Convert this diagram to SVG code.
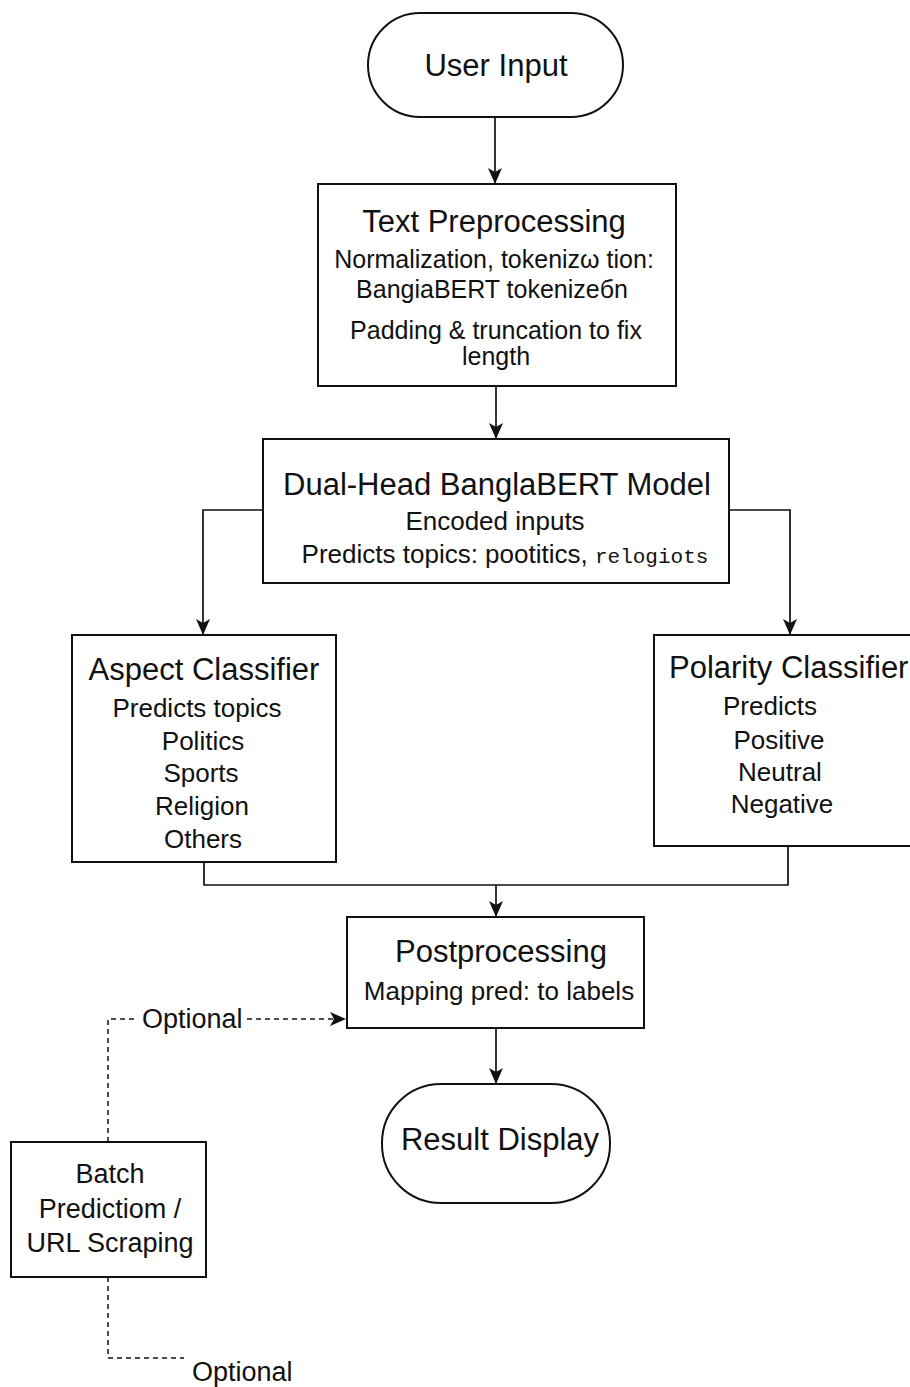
<svg xmlns="http://www.w3.org/2000/svg" width="910" height="1387" viewBox="0 0 910 1387">
<style>
.box{fill:#fff;stroke:#111;stroke-width:2}
.ln{fill:none;stroke:#111;stroke-width:1.7}
.dash{fill:none;stroke:#111;stroke-width:1.5;stroke-dasharray:5 4}
text{font-family:"Liberation Sans",Arial,Helvetica,sans-serif;fill:#111}
.t{font-size:31px}
.b{font-size:26px}
.s{font-size:25px}
.o{font-size:27px}
.c{text-anchor:middle}
</style>
<defs>
<marker id="arr" markerUnits="userSpaceOnUse" markerWidth="16" markerHeight="14" refX="16" refY="7" orient="auto">
<path d="M0,0 L16,7 L0,14 L4,7 z" fill="#111"/>
</marker>
</defs>
<rect width="910" height="1387" fill="#fff"/>
<g id="connectors">
<line class="ln" x1="495" y1="117" x2="495" y2="184" marker-end="url(#arr)"/>
<line class="ln" x1="496" y1="386" x2="496" y2="439" marker-end="url(#arr)"/>
<polyline class="ln" points="263,510 203,510 203,635" marker-end="url(#arr)"/>
<polyline class="ln" points="729,510 790,510 790,635" marker-end="url(#arr)"/>
<polyline class="ln" points="204,862 204,885 788,885 788,846"/>
<line class="ln" x1="496" y1="885" x2="496" y2="917" marker-end="url(#arr)"/>
<line class="ln" x1="496" y1="1028" x2="496" y2="1084" marker-end="url(#arr)"/>
<polyline class="dash" points="108,1142 108,1019 138,1019"/>
<line class="dash" x1="247" y1="1019" x2="346" y2="1019" marker-end="url(#arr)"/>
<polyline class="dash" points="108,1277 108,1358 184,1358"/>
<text class="o" x="142" y="1028">Optional</text>
<text class="o" x="192" y="1381">Optional</text>
</g>
<g id="user-input">
<rect class="box" x="368" y="13" width="255" height="104" rx="52"/>
<text class="t c" x="496" y="76">User Input</text>
</g>
<g id="text-preprocessing">
<rect class="box" x="318" y="184" width="358" height="202"/>
<text class="t c" x="494" y="232">Text Preprocessing</text>
<text class="s c" x="494" y="268">Normalization, tokenizω tion:</text>
<text class="s c" x="492" y="298">BangiaBERT tokenizeбn</text>
<text class="s c" x="496" y="339">Padding &amp; truncation to fix</text>
<text class="s c" x="496" y="365">length</text>
</g>
<g id="dual-head">
<rect class="box" x="263" y="439" width="466" height="144"/>
<text class="t c" x="497" y="495">Dual-Head BanglaBERT Model</text>
<text class="b c" x="495" y="530">Encoded inputs</text>
<text class="b c" x="505" y="563">Predicts topics: pootitics, <tspan font-family="'Liberation Mono','DejaVu Sans Mono',monospace" font-size="21">relogiots</tspan></text>
</g>
<g id="aspect-classifier">
<rect class="box" x="72" y="635" width="264" height="227"/>
<text class="t c" x="204" y="680">Aspect Classifier</text>
<text class="b c" x="197" y="717">Predicts topics</text>
<text class="b c" x="203" y="750">Politics</text>
<text class="b c" x="201" y="782">Sports</text>
<text class="b c" x="202" y="815">Religion</text>
<text class="b c" x="203" y="848">Others</text>
</g>
<g id="polarity-classifier">
<rect class="box" x="654" y="635" width="270" height="211"/>
<text class="t" x="669" y="678">Polarity Classifier</text>
<text class="b c" x="770" y="715">Predicts</text>
<text class="b c" x="779" y="749">Positive</text>
<text class="b c" x="780" y="781">Neutral</text>
<text class="b c" x="782" y="813">Negative</text>
</g>
<g id="postprocessing">
<rect class="box" x="347" y="917" width="297" height="111"/>
<text class="t c" x="501" y="962">Postprocessing</text>
<text class="b c" x="499" y="1000">Mapping pred: to labels</text>
</g>
<g id="result-display">
<rect class="box" x="382" y="1084" width="228" height="119" rx="59"/>
<text class="t c" x="500" y="1150">Result Display</text>
</g>
<g id="batch">
<rect class="box" x="11" y="1142" width="195" height="135"/>
<text class="o c" x="110" y="1183">Batch</text>
<text class="o c" x="110" y="1218">Predictiom /</text>
<text class="o c" x="110" y="1252">URL Scraping</text>
</g>
</svg>
